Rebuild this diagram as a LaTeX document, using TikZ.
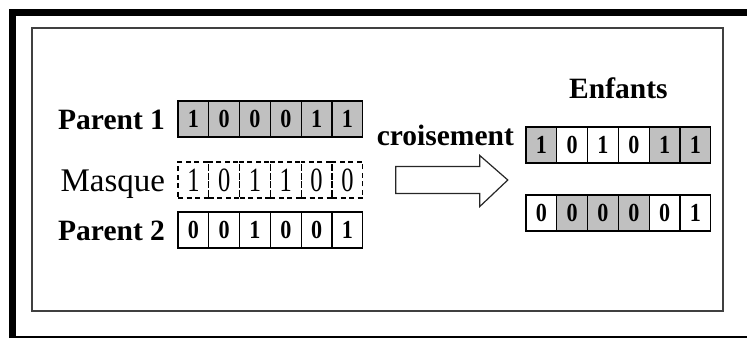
\documentclass[tikz,border=0pt]{standalone}
\usepackage{fontspec}
\setmainfont{Liberation Serif}
\newfontfamily\bitfont{Liberation Serif}[FakeStretch=0.85]
\newfontfamily\maskfont{Liberation Serif}[FakeStretch=0.72]
\usetikzlibrary{positioning}

\definecolor{cellgrey}{RGB}{192,192,192}

\begin{document}
\begin{tikzpicture}[x=1pt, y=-1pt, node distance=0pt,
    bit/.style={draw, line width=1.2pt, minimum width=30.8pt, minimum height=36pt,
      inner sep=0pt, outer sep=0pt, font=\bitfont\fontsize{26}{28}\selectfont\bfseries},
    maskbit/.style={bit, dashed, dash pattern=on 5pt off 3.5pt,
      font=\maskfont\fontsize{34}{36}\selectfont},
    shaded/.style={fill=cellgrey},
    lbl/.style={inner sep=0pt, outer sep=0pt, text height=20pt, text depth=0pt,
      font=\fontsize{29.5}{31}\selectfont\bfseries}]
  \useasboundingbox (0,0) rectangle (747,338);

  % outer frame and panel
  \draw[line width=7pt] (12.5,338) -- (12.5,12.5) -- (747,12.5);
  \draw[line width=1.5pt] (9,337) -- (747,337);
  \draw[line width=1.8pt, black!75] (32,28) rectangle (723,311);

  % parent 1
  \node[bit, shaded] (p1b1) at (193.4,119) {1};
  \node[bit, shaded, right=of p1b1] (p1b2) {0};
  \node[bit, shaded, right=of p1b2] (p1b3) {0};
  \node[bit, shaded, right=of p1b3] (p1b4) {0};
  \node[bit, shaded, right=of p1b4] (p1b5) {1};
  \node[bit, shaded, right=of p1b5] (p1b6) {1};

  % mask
  \node[maskbit, below=25pt of p1b1] (mb1) {1};
  \node[maskbit, right=of mb1] (mb2) {0};
  \node[maskbit, right=of mb2] (mb3) {1};
  \node[maskbit, right=of mb3] (mb4) {1};
  \node[maskbit, right=of mb4] (mb5) {0};
  \node[maskbit, right=of mb5] (mb6) {0};

  % parent 2
  \node[bit, below=14pt of mb1] (p2b1) {0};
  \node[bit, right=of p2b1] (p2b2) {0};
  \node[bit, right=of p2b2] (p2b3) {1};
  \node[bit, right=of p2b3] (p2b4) {0};
  \node[bit, right=of p2b4] (p2b5) {0};
  \node[bit, right=of p2b5] (p2b6) {1};

  \node[lbl, left=13pt of p1b1] (par1) {Parent 1};
  \node[lbl, left=13pt of mb1, text height=22pt, font=\fontsize{33}{35}\selectfont] (mask) {Masque};
  \node[lbl, left=13pt of p2b1] (par2) {Parent 2};

  % crossover arrow
  \coordinate[right=33pt of mb6] (tail);
  \draw[line width=1.2pt, black!85] (tail) ++(0,-13.5) -- ++(84,0) -- ++(0,-11)
    -- ++(28,24.5) -- ++(-28,26.5) -- ++(0,-13) -- ++(-84,0) -- cycle;
  \node[lbl, above right=17pt and 14pt of mb6.north east] (cross) {croisement};

  % children
  \node[bit, shaded] (e1b1) at (541.4,145) {1};
  \node[bit, right=of e1b1] (e1b2) {0};
  \node[bit, right=of e1b2] (e1b3) {1};
  \node[bit, right=of e1b3] (e1b4) {0};
  \node[bit, shaded, right=of e1b4] (e1b5) {1};
  \node[bit, shaded, right=of e1b5] (e1b6) {1};

  \node[bit, below=32pt of e1b1] (e2b1) {0};
  \node[bit, shaded, right=of e2b1] (e2b2) {0};
  \node[bit, shaded, right=of e2b2] (e2b3) {0};
  \node[bit, shaded, right=of e2b3] (e2b4) {0};
  \node[bit, right=of e2b4] (e2b5) {0};
  \node[bit, right=of e2b5] (e2b6) {1};

  \node[lbl, above=29pt of e1b3.north east] (kids) {Enfants};
\end{tikzpicture}
\end{document}
